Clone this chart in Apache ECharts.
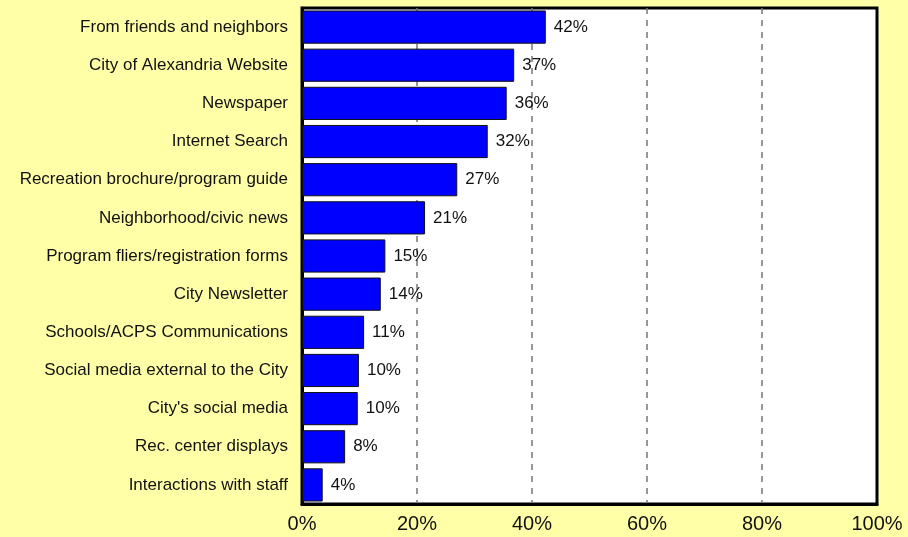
<!DOCTYPE html>
<html>
<head>
<meta charset="utf-8">
<script src="https://cdn.jsdelivr.net/npm/echarts@6/dist/echarts.min.js"></script>
<style>
  html, body { margin: 0; padding: 0; background: #FFFFA8; }
  #chart { width: 908px; height: 537px; }
</style>
</head>
<body>
<div id="chart"></div>
<script>
var categories = [
  'From friends and neighbors',
  'City of Alexandria Website',
  'Newspaper',
  'Internet Search',
  'Recreation brochure/program guide',
  'Neighborhood/civic news',
  'Program fliers/registration forms',
  'City Newsletter',
  'Schools/ACPS Communications',
  'Social media external to the City',
  "City's social media",
  'Rec. center displays',
  'Interactions with staff'
];
var shares = [42.4, 36.9, 35.6, 32.3, 27.0, 21.4, 14.5, 13.7, 10.8, 9.9, 9.7, 7.5, 3.6];
var ticks = [0, 20, 40, 60, 80, 100];

var chart = echarts.init(document.getElementById('chart'));
chart.setOption({
  backgroundColor: '#FFFFA8',
  animation: false,
  grid: {
    left: 302, right: 31, top: 8, bottom: 33,
    show: true,
    backgroundColor: '#FFFFFF',
    borderColor: '#000000',
    borderWidth: 3
  },
  xAxis: {
    type: 'value',
    min: ticks[0],
    max: ticks[ticks.length - 1],
    interval: 20,
    axisLine: { show: true, lineStyle: { color: '#000', width: 3 } },
    axisTick: { show: false },
    axisLabel: {
      fontFamily: 'Liberation Sans, Arial, sans-serif',
      fontSize: 20,
      color: '#111',
      margin: 10,
      formatter: function (v) { return v + '%'; }
    },
    splitLine: {
      show: true,
      showMinLine: false,
      showMaxLine: false,
      lineStyle: { color: '#777', width: 1.5, type: [6, 6] }
    }
  },
  yAxis: {
    type: 'category',
    data: categories,
    inverse: true,
    axisLine: { show: true, lineStyle: { color: '#000', width: 3 } },
    axisTick: { show: false },
    axisLabel: {
      fontFamily: 'Liberation Sans, Arial, sans-serif',
      fontSize: 17,
      color: '#111',
      margin: 14
    }
  },
  series: [{
    type: 'bar',
    data: shares,
    barCategoryGap: '13%',
    itemStyle: { color: '#0000FF', borderColor: '#111', borderWidth: 1 },
    label: {
      show: true,
      position: 'right',
      distance: 8,
      fontFamily: 'Liberation Sans, Arial, sans-serif',
      fontSize: 17,
      color: '#111',
      formatter: function (p) { return Math.round(p.value) + '%'; }
    }
  }]
});
</script>
</body>
</html>
